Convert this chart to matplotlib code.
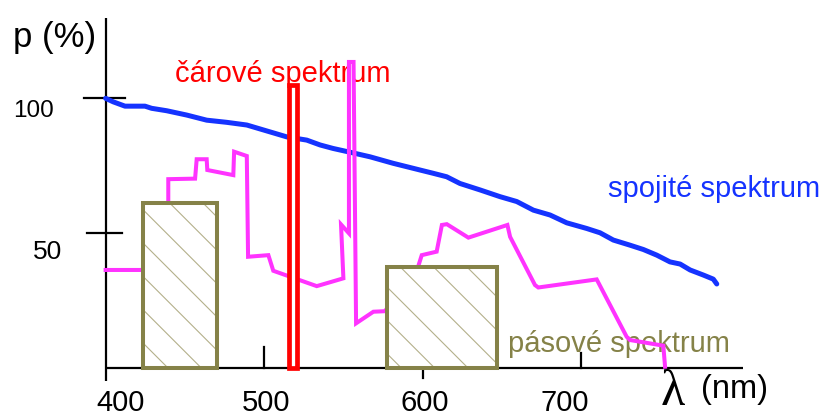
import matplotlib
matplotlib.use("Agg")
import matplotlib.pyplot as plt

plt.rcParams['font.family'] = ['Liberation Sans', 'DejaVu Sans']
plt.rcParams['hatch.linewidth'] = 0.8

# ---- data (wavelength in nm, p in %) ----
cont_wl = [400, 404.8, 412.2, 424.8, 429.0, 438.5, 451.1, 463.7, 476.3, 489.0,
           501.6, 514.2, 526.8, 535.2, 543.4, 554.1, 566.7, 581.2, 598.2, 606.4,
           615.0, 623.4, 636.1, 648.7, 659.2, 669.7, 680.2, 690.7, 703.3, 711.7,
           720.1, 730.6, 739.0, 747.5, 755.8, 762.2, 768.5, 776.9, 783.1, 785.3]
cont_p = [100.0, 98.7, 97.1, 97.1, 96.3, 95.4, 93.8, 91.9, 91.1, 90.1,
          87.9, 85.7, 84.5, 82.7, 81.4, 80.0, 78.3, 75.9, 73.4, 72.2,
          70.9, 68.4, 66.0, 63.5, 61.7, 58.5, 56.7, 53.8, 51.7, 50.1,
          47.4, 45.5, 43.9, 41.8, 39.3, 38.5, 36.3, 34.4, 32.9, 31.1]

mix_wl = [400, 439.5, 439.5, 456.4, 457.4, 463.7, 464.1, 480.5, 481.0, 489.0,
          489.8, 502.6, 505.7, 533.1, 549.9, 548.4, 553.4, 553.4, 556.3, 557.9,
          568.8, 576.1, 597.0, 599.3, 608.7, 612.0, 615.1, 628.7, 653.3, 655.0,
          670.7, 672.8, 709.6, 728.5, 730.6, 751.6, 752.7]
mix_p = [36.3, 36.3, 70.0, 70.2, 77.4, 77.4, 73.4, 71.5, 80.2, 78.6,
         41.2, 41.8, 36.0, 30.3, 33.2, 53.2, 49.9, 113.5, 113.5, 16.5,
         20.8, 21.0, 37.5, 41.8, 43.1, 53.0, 53.3, 48.3, 53.0, 48.6,
         30.7, 29.8, 32.8, 11.5, 10.3, 8.2, 0.4]

line_wl = [515.8]
line_width = [4.9]
line_p = [104.8]

band_start = [423.8, 577.2]
band_width = [46.2, 69.8]
band_p = [61.2, 37.5]

x_ticks = [500, 600, 700]
x_tick_labels = ['400', '500', '600', '700']
y_ticks = [50, 100]
y_tick_labels = ['50', '100']

# ---- styles ----
BLUE = '#1533ff'
MAGENTA = '#ff33ff'
RED = '#ff0000'
OLIVE = '#858248'
HATCH = '#b3b08a'

fig = plt.figure(figsize=(8.27, 4.16), dpi=100)
ax = fig.add_axes([0, 0, 1, 1])
ax.set_xlim(333.4, 854.8)
ax.set_ylim(-17.9, 136.5)
ax.axis('off')

# axes lines
ax.plot([400, 400], [-4.9, 129.8], color='black', lw=1.6, zorder=2, solid_capstyle='butt')
ax.plot([400, 802], [0, 0], color='black', lw=1.6, zorder=2, solid_capstyle='butt')
# ticks
tick_x_len = [7.7, -3.8, 5.6]
for xt, ln in zip(x_ticks, tick_x_len):
    ax.plot([xt, xt], [0, ln], color='black', lw=1.6, zorder=2)
tick_y_span = [(388.3, 410.3), (386.4, 412.2)]
for yt, (a, b) in zip(y_ticks, tick_y_span):
    ax.plot([a, b], [yt, yt], color='black', lw=1.6, zorder=2)

# curves
ax.plot(mix_wl, mix_p, color=MAGENTA, lw=2.9, zorder=4, solid_joinstyle='miter')
ax.plot(cont_wl, cont_p, color=BLUE, lw=3.6, zorder=3, solid_capstyle='round')

# band spectrum (hatched boxes)
ax.bar(band_start, band_p, width=band_width, align='edge', color='white',
       edgecolor=HATCH, hatch='\\', linewidth=0, zorder=5)
ax.bar(band_start, band_p, width=band_width, align='edge', fill=False,
       edgecolor=OLIVE, linewidth=2.9, zorder=6)

# line spectrum
ax.bar(line_wl, line_p, width=line_width, align='edge', color='white',
       edgecolor=RED, linewidth=3.4, zorder=7)

# texts
ax.text(341.6, 119.2, 'p (%)', fontsize=25, ha='left', va='baseline', color='black')
ax.text(354.4, 93.2, y_tick_labels[1], fontsize=17.5, ha='center', va='baseline')
ax.text(363.4, 40.3, y_tick_labels[0], fontsize=19, ha='center', va='baseline')
for xc, lab in zip([409.7, 501.0, 601.4, 689.6], x_tick_labels):
    ax.text(xc, -16.2, lab, fontsize=21, ha='center', va='baseline')

ax.text(511.5, 106.2, 'čárové spektrum', fontsize=21, color=RED, ha='center',
        va='baseline', zorder=3.5)
ax.text(783.6, 63.5, 'spojité spektrum', fontsize=21, color=BLUE, ha='center',
        va='baseline')
ax.text(723.7, 5.9, 'pásové spektrum', fontsize=21, color=OLIVE, ha='center',
        va='baseline', zorder=3.5)
ax.text(757.4, -14.0, 'λ', fontsize=36, family=['Liberation Serif', 'DejaVu Serif'],
        ha='center', va='baseline')
ax.text(775.4, -11.4, '(nm)', fontsize=23.5, ha='left', va='baseline')

fig.savefig('out.png', dpi=100)
